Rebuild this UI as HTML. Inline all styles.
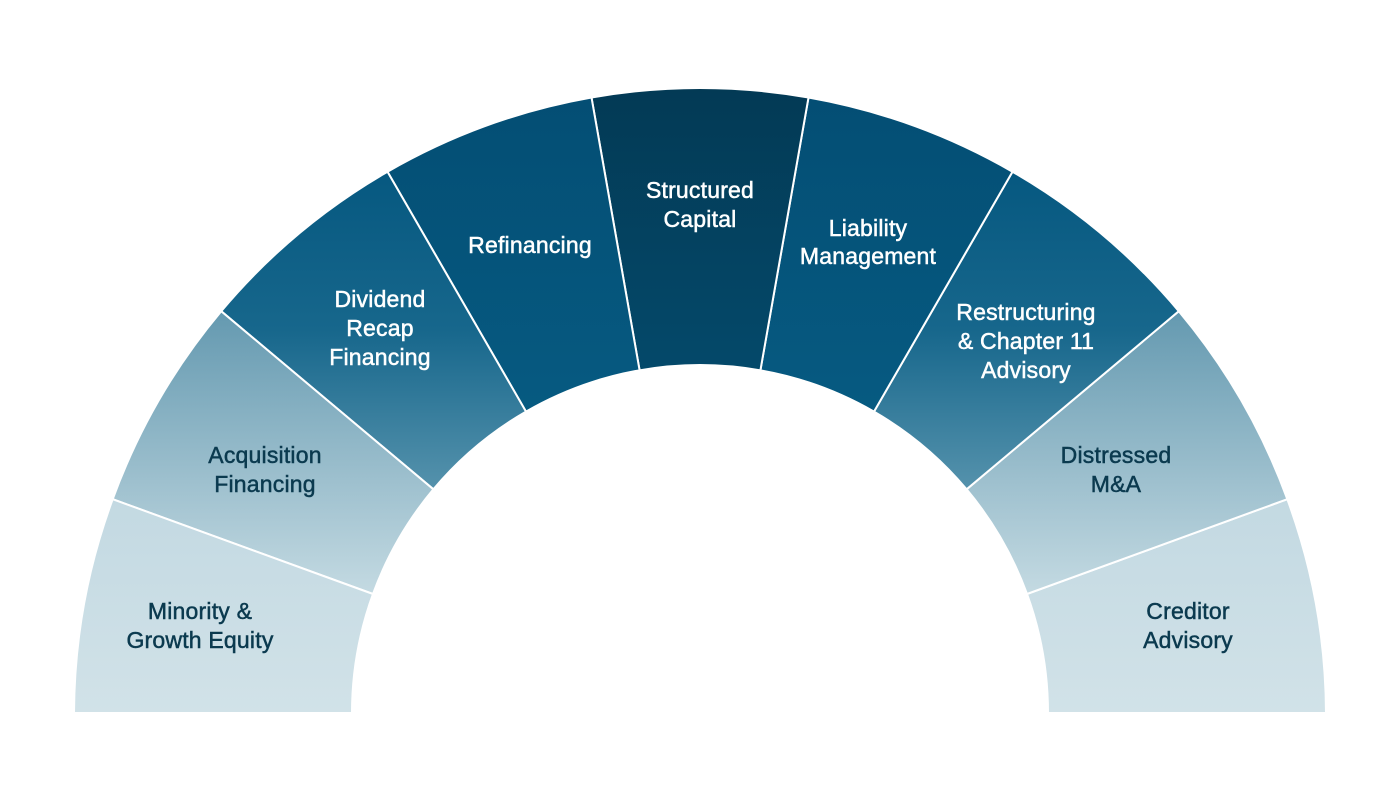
<!DOCTYPE html>
<html><head><meta charset="utf-8"><style>
html,body{margin:0;padding:0;background:#fff;}
svg{display:block;}
text{font-family:"Liberation Sans",sans-serif;font-size:23px;text-anchor:middle;dominant-baseline:middle;letter-spacing:0.2px;stroke-width:0.5px;}
.d{fill:#0b3a4f;stroke:#0b3a4f;} .w{fill:#fff;stroke:#fff;}
</style></head><body>
<svg width="1400" height="800" viewBox="0 0 1400 800">
<defs>
<linearGradient id="g0" x1="0" y1="0" x2="0" y2="1"><stop offset="0" stop-color="#c3d9e2"/><stop offset="1" stop-color="#d1e2e8"/></linearGradient>
<linearGradient id="g1" x1="0" y1="0" x2="0" y2="1"><stop offset="0" stop-color="#6499b0"/><stop offset="1" stop-color="#c4dae2"/></linearGradient>
<linearGradient id="g2" x1="0" y1="0" x2="0" y2="1"><stop offset="0" stop-color="#065880"/><stop offset="0.5" stop-color="#17678c"/><stop offset="1" stop-color="#5592ac"/></linearGradient>
<linearGradient id="g3" x1="0" y1="0" x2="0" y2="1"><stop offset="0" stop-color="#044e74"/><stop offset="1" stop-color="#065a81"/></linearGradient>
<linearGradient id="g4" x1="0" y1="0" x2="0" y2="1"><stop offset="0" stop-color="#033a55"/><stop offset="1" stop-color="#04496a"/></linearGradient>
</defs>
<g stroke="#fff" stroke-width="2">
<path d="M1326,713 A626,626 0 0 0 1287.3,499.2 L1027,594 A348,348 0 0 1 1048,713 Z" fill="url(#g0)"/>
<path d="M1287.3,499.2 A626,626 0 0 0 1178.8,311.2 L966.6,489.3 A348,348 0 0 1 1027,594 Z" fill="url(#g1)"/>
<path d="M1178.8,311.2 A626,626 0 0 0 1012.5,171.7 L874,411.6 A348,348 0 0 1 966.6,489.3 Z" fill="url(#g2)"/>
<path d="M1012.5,171.7 A626,626 0 0 0 808.5,97.5 L760.4,370.3 A348,348 0 0 1 874,411.6 Z" fill="url(#g3)"/>
<path d="M808.5,97.5 A626,626 0 0 0 591.5,97.5 L639.6,370.3 A348,348 0 0 1 760.4,370.3 Z" fill="url(#g4)"/>
<path d="M591.5,97.5 A626,626 0 0 0 387.5,171.7 L526,411.6 A348,348 0 0 1 639.6,370.3 Z" fill="url(#g3)"/>
<path d="M387.5,171.7 A626,626 0 0 0 221.2,311.2 L433.4,489.3 A348,348 0 0 1 526,411.6 Z" fill="url(#g2)"/>
<path d="M221.2,311.2 A626,626 0 0 0 112.7,499.2 L373,594 A348,348 0 0 1 433.4,489.3 Z" fill="url(#g1)"/>
<path d="M112.7,499.2 A626,626 0 0 0 74,713 L352,713 A348,348 0 0 1 373,594 Z" fill="url(#g0)"/>
</g>
<text class="d" x="200" y="613">Minority &amp;</text>
<text class="d" x="200" y="642">Growth Equity</text>
<text class="d" x="265" y="457">Acquisition</text>
<text class="d" x="265" y="486">Financing</text>
<text class="w" x="380" y="301">Dividend</text>
<text class="w" x="380" y="330">Recap</text>
<text class="w" x="380" y="359">Financing</text>
<text class="w" x="530" y="247">Refinancing</text>
<text class="w" x="700" y="192">Structured</text>
<text class="w" x="700" y="221">Capital</text>
<text class="w" x="868" y="230">Liability</text>
<text class="w" x="868" y="258">Management</text>
<text class="w" x="1026" y="314">Restructuring</text>
<text class="w" x="1026" y="343">&amp; Chapter 11</text>
<text class="w" x="1026" y="372">Advisory</text>
<text class="d" x="1116" y="457">Distressed</text>
<text class="d" x="1116" y="486">M&amp;A</text>
<text class="d" x="1188" y="613">Creditor</text>
<text class="d" x="1188" y="642">Advisory</text>
</svg>
</body></html>
